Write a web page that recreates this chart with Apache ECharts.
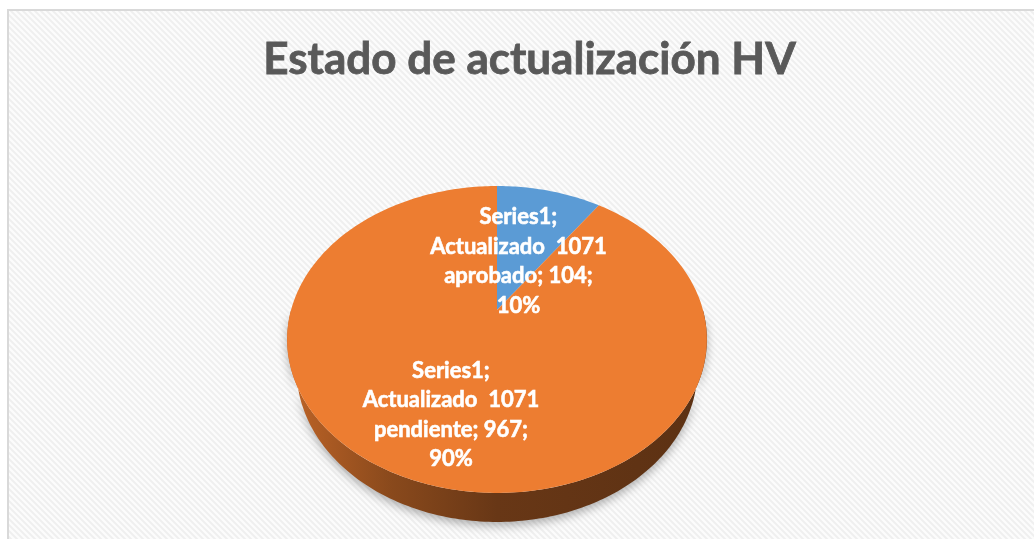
<!DOCTYPE html>
<html>
<head>
<meta charset="utf-8">
<script src="https://cdn.jsdelivr.net/npm/echarts@6/dist/echarts.min.js"></script>
<style>
  html, body { margin: 0; padding: 0; background: #fff; }
  #chart { width: 1034px; height: 539px; }
</style>
</head>
<body>
<div id="chart"></div>
<script>
const seriesName = 'Series1';
const categories = ['Actualizado  1071 aprobado', 'Actualizado  1071 pendiente'];
const values = [104, 967];
const colors = ['#5B9BD5', '#ED7D31'];
// how far out (fraction of radius) each label sits, like excel placed them
const labelRadius = [0.37, 0.655];

// fake 3d view of the pie (tilted disc, seen in perspective)
const CX = 497, CY = 310;
const CAM = 3.627;          // camera distance, in radius units
const FOCAL = 747;
const TILT = 45.85 * Math.PI / 180;
const THICK = 0.231;        // disc thickness, in radius units
const cosT = Math.cos(TILT), sinT = Math.sin(TILT);

function proj(px, pz, h) {
    const hz = h * THICK;
    const z = CAM - pz * cosT + hz * sinT;
    return [CX + FOCAL * px / z, CY + FOCAL * (pz * sinT + hz * cosT) / z];
}

function arc(a, b, h, r) {
    let pts = [];
    let n = Math.max(2, Math.ceil(Math.abs(b - a) / (Math.PI / 180)));
    for (let k = 0; k <= n; k++) {
        let t = a + (b - a) * k / n;
        pts.push(proj(r * Math.cos(t), r * Math.sin(t), h));
    }
    return pts;
}

const total = values.reduce(function (s, v) { return s + v; }, 0);

function shade(hex, f) {
    let c = echarts.color.parse(hex);
    return 'rgb(' + Math.round(c[0] * f) + ',' + Math.round(c[1] * f) + ',' + Math.round(c[2] * f) + ')';
}

function sideFill(color) {
    return new echarts.graphic.LinearGradient(CX - 210, 0, CX + 210, 0, [
        { offset: 0, color: shade(color, 0.8) },
        { offset: 0.25, color: shade(color, 0.58) },
        { offset: 0.5, color: shade(color, 0.44) },
        { offset: 1, color: shade(color, 0.39) }
    ], true);
}

function labelText(i) {
    let name = categories[i].replace(/ (\S+)$/, '\n$1');
    let pct = Math.round(values[i] / total * 100);
    return seriesName + ';\n' + name + '; ' + values[i] + ';\n' + pct + '%';
}

function renderSlice(params, api) {
    let i = params.dataIndex;
    let before = 0;
    for (let k = 0; k < i; k++) before += values[k];
    let a = -Math.PI / 2 + 2 * Math.PI * before / total;
    let b = a + 2 * Math.PI * api.value(0) / total;
    let color = colors[i];
    let children = [];

    // visible side wall: front half of the disc
    let sa = Math.max(a, 0), sb = Math.min(b, Math.PI);
    if (sb > sa) {
        let top = arc(sa, sb, 0, 1);
        let bottom = arc(sa, sb, 1, 1).reverse();
        children.push({
            type: 'polygon',
            z2: 1,
            shape: { points: top.concat(bottom) },
            style: {
                fill: sideFill(color),
                shadowBlur: 10,
                shadowOffsetY: 4,
                shadowColor: 'rgba(0,0,0,0.3)'
            }
        });
    }

    // top face
    children.push({
        type: 'polygon',
        z2: 10,
        shape: { points: [proj(0, 0, 0)].concat(arc(a, b, 0, 1)) },
        style: { fill: color }
    });

    // label
    let m = (a + b) / 2;
    let p = proj(labelRadius[i] * Math.cos(m), labelRadius[i] * Math.sin(m), 0);
    children.push({
        type: 'text',
        z2: 20,
        x: p[0],
        y: p[1],
        style: {
            text: labelText(i),
            align: 'center',
            verticalAlign: 'middle',
            fill: '#fff',
            font: 'bold 22px Lato',
            lineHeight: 29.5,
            stroke: '#fff',
            lineWidth: 0.6,
            shadowColor: 'rgba(0,0,0,0.3)',
            shadowBlur: 3,
            shadowOffsetY: 1
        }
    });

    return { type: 'group', children: children };
}

// light diagonal hatch of the chart area
function hatch() {
    let c = document.createElement('canvas');
    c.width = 6; c.height = 6;
    let ctx = c.getContext('2d');
    ctx.fillStyle = '#fcfcfc';
    ctx.fillRect(0, 0, 6, 6);
    ctx.strokeStyle = '#efefef';
    ctx.lineWidth = 2;
    ctx.beginPath();
    ctx.moveTo(-1, -1); ctx.lineTo(7, 7);
    ctx.moveTo(-4, 2); ctx.lineTo(4, 10);
    ctx.moveTo(2, -4); ctx.lineTo(10, 4);
    ctx.stroke();
    return c;
}

let myChart = echarts.init(document.getElementById('chart'));
let option = {
    animation: false,
    backgroundColor: '#fff',
    graphic: [
        {
            type: 'rect',
            z: -10,
            shape: { x: 8, y: 10, width: 1100, height: 600 },
            style: { fill: { image: hatch(), repeat: 'repeat' }, stroke: '#d9d9d9', lineWidth: 2 }
        },
        {
            type: 'text',
            x: 529.5,
            y: 60,
            style: {
                text: 'Estado de actualización HV',
                align: 'center',
                verticalAlign: 'middle',
                fill: '#595959',
                font: 'bold 44px Lato',
                stroke: '#595959',
                lineWidth: 0.8
            }
        }
    ],
    series: [{
        type: 'custom',
        name: seriesName,
        coordinateSystem: 'none',
        renderItem: renderSlice,
        data: values.map(function (v, i) { return { name: categories[i], value: v }; })
    }]
};
myChart.setOption(option);
</script>
</body>
</html>
